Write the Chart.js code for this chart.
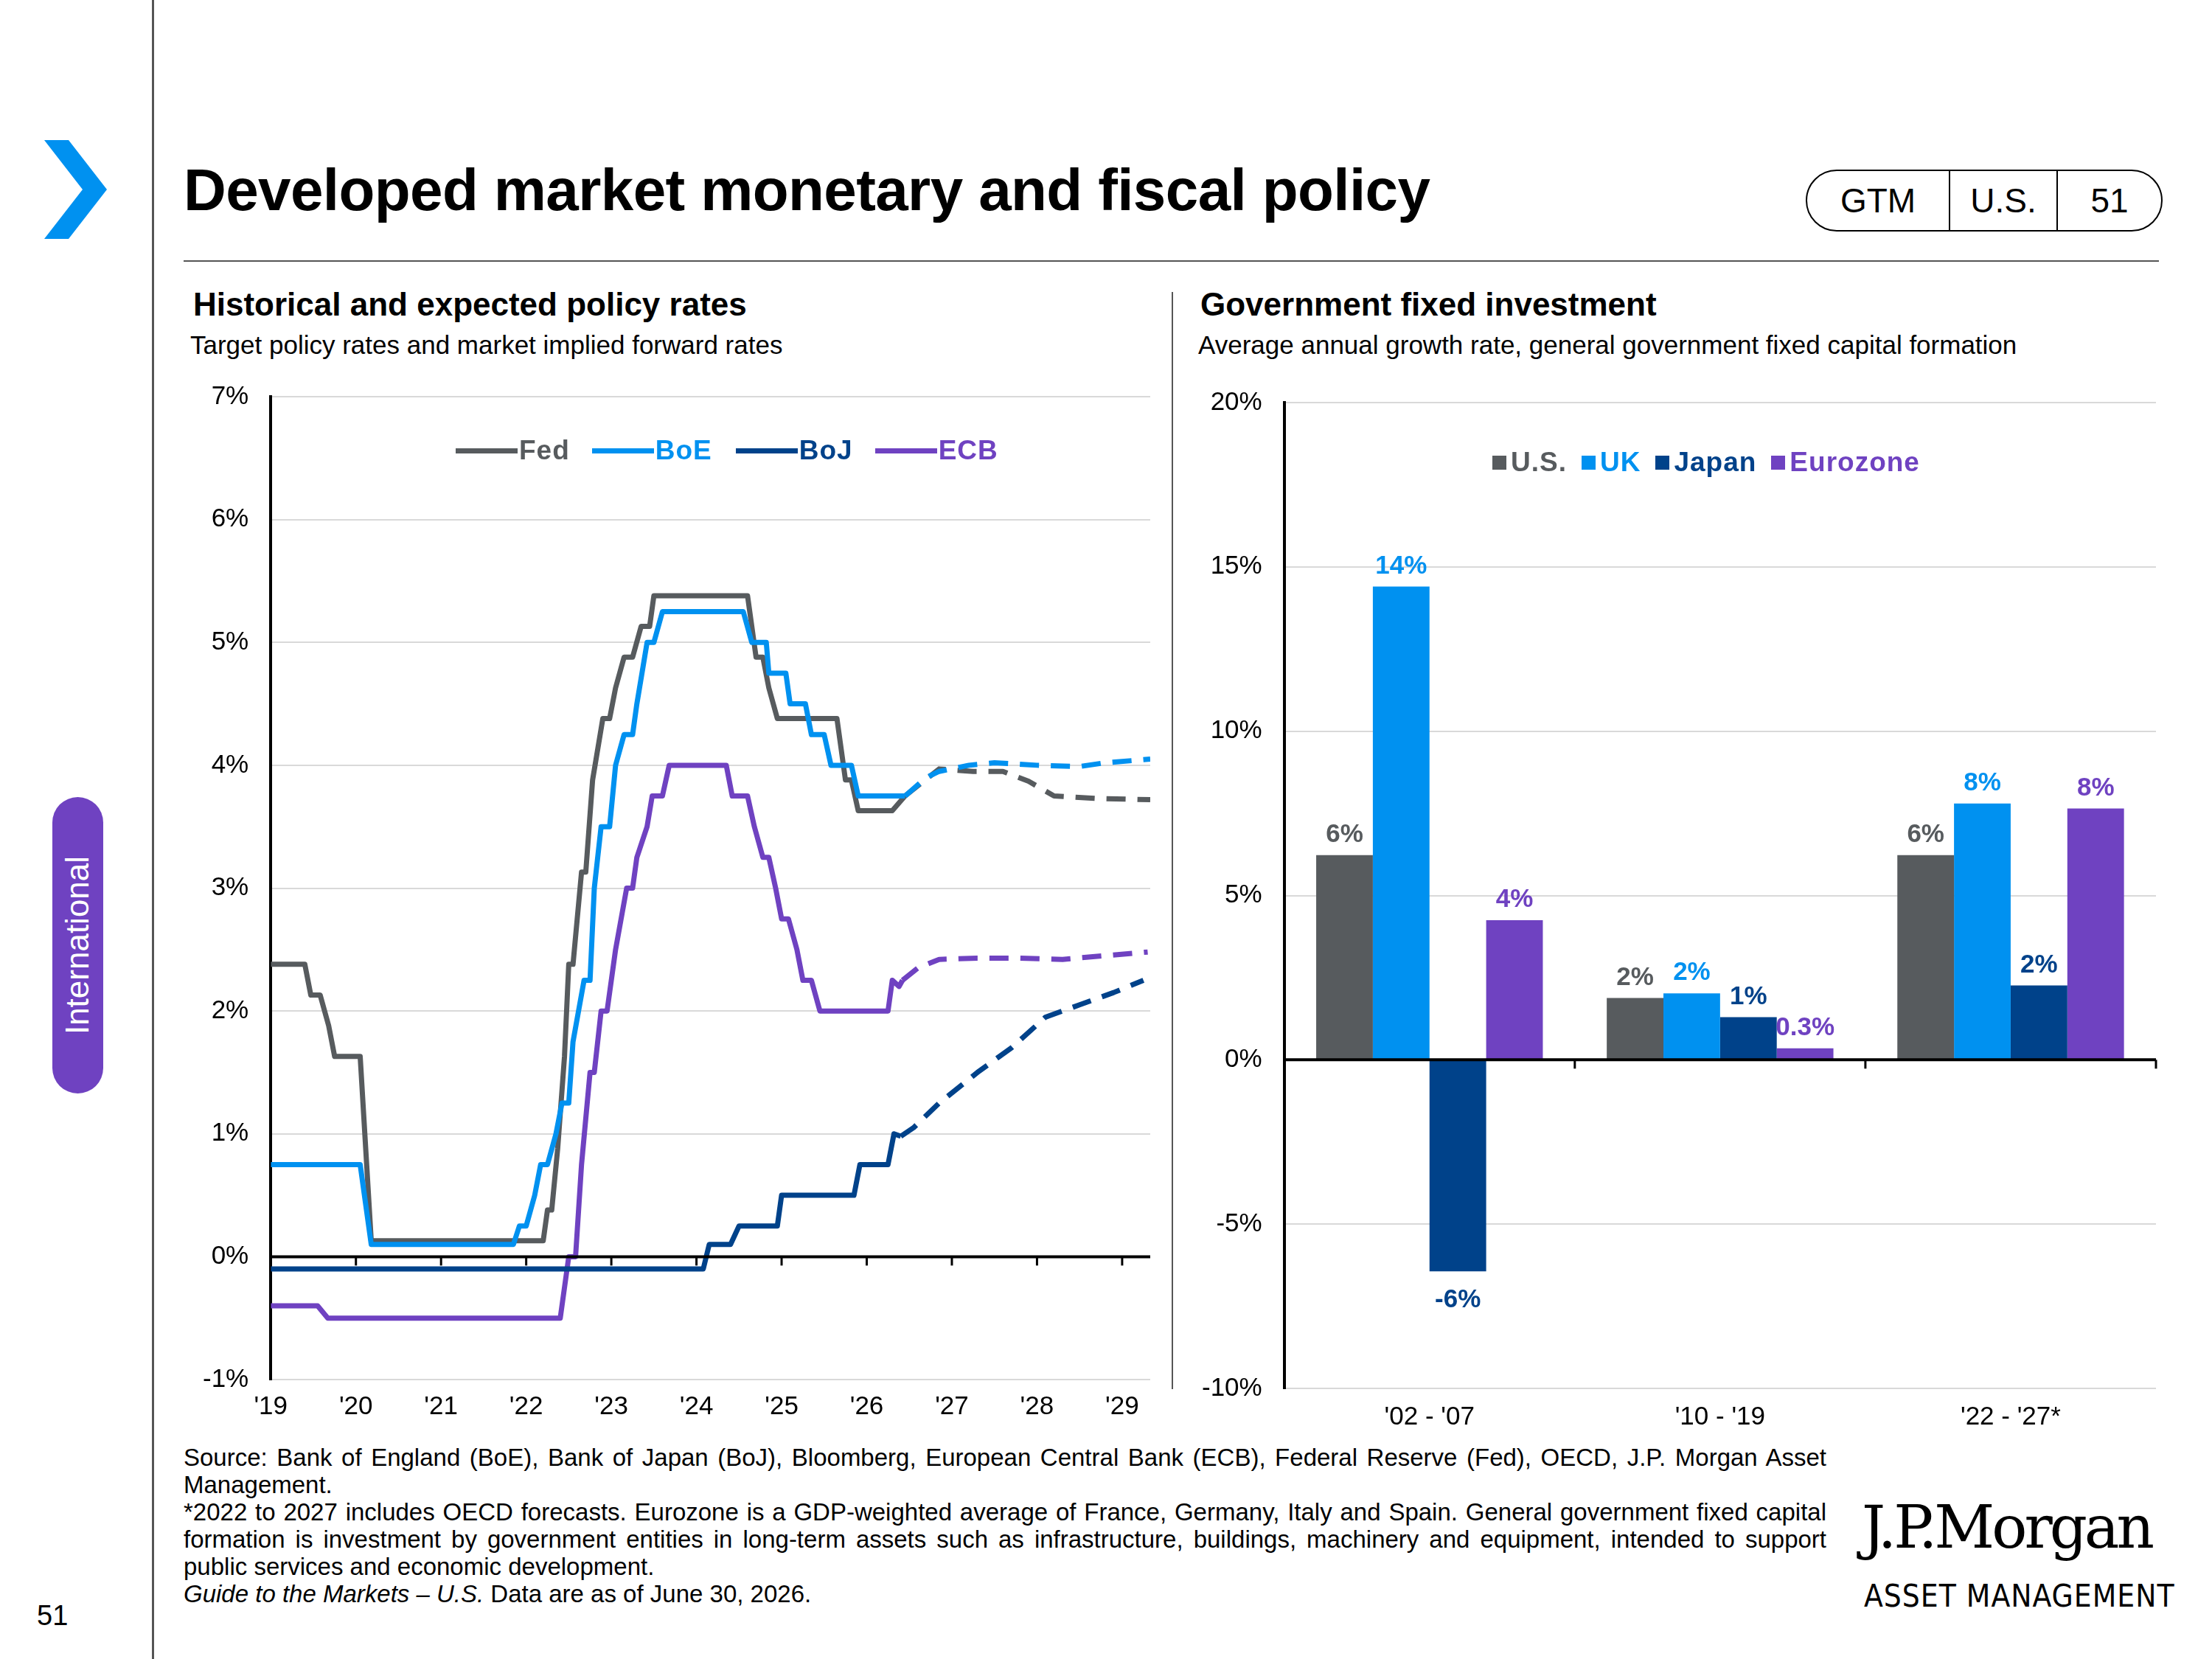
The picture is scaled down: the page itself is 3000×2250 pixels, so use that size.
<!DOCTYPE html>
<html>
<head>
<meta charset="utf-8">
<script src="https://cdn.jsdelivr.net/npm/chart.js@4"></script>
<style>
  body { margin: 0; width: 3000px; height: 2250px; background: #fff; font-family: "Liberation Sans", Arial, sans-serif; position: relative; overflow: hidden; }
  .abs { position: absolute; }
  #title { left: 249px; top: 212px; font-size: 80px; font-weight: bold; color: #000; letter-spacing: -0.6px; }
  .h2 { font-size: 44px; font-weight: bold; color: #000; }
  .h3 { font-size: 35px; color: #000; }
  .foot { left: 249px; top: 1958px; width: 2228px; font-size: 33px; line-height: 37px; color: #000; text-align: justify; }
  .legend { font-size: 37px; font-weight: bold; display: flex; align-items: center; letter-spacing: 1px; }
  .legend span { display: inline-flex; align-items: center; }
  .ln { display: inline-block; width: 84px; height: 7px; margin-right: 2px; }
  .sq { display: inline-block; width: 19px; height: 19px; margin-right: 6px; }
</style>
</head>
<body>
<div class="abs" style="left:206px;top:0;width:3px;height:2250px;background:#555"></div>
<svg class="abs" style="left:55px;top:190px" width="95" height="135"><polygon points="5,0 38,0 90,67 38,134 5,134 57,67" fill="#0091f0"/></svg>
<div class="abs" style="left:71px;top:1081px;width:69px;height:402px;border-radius:35px;background:#6f42c1"></div>
<div class="abs" style="left:105px;top:1282px;transform:translate(-50%,-50%) rotate(-90deg);color:#fff;font-size:44px;white-space:nowrap">International</div>
<div class="abs" style="left:50px;top:2170px;font-size:38px">51</div>
<div id="title" class="abs">Developed market monetary and fiscal policy</div>
<div class="abs" style="left:2449px;top:230px;width:480px;height:80px;border:2px solid #000;border-radius:42px;display:flex;font-size:46px;align-items:center">
  <div style="width:192px;text-align:center;border-right:2px solid #000;line-height:80px">GTM</div>
  <div style="width:144px;text-align:center;border-right:2px solid #000;line-height:80px">U.S.</div>
  <div style="flex:1;text-align:center;line-height:80px">51</div>
</div>
<div class="abs" style="left:249px;top:353px;width:2679px;height:2px;background:#555"></div>
<div class="abs" style="left:1589px;top:396px;width:2px;height:1488px;background:#555"></div>

<div class="abs h2" style="left:262px;top:388px">Historical and expected policy rates</div>
<div class="abs h3" style="left:258px;top:448px">Target policy rates and market implied forward rates</div>
<div class="abs h2" style="left:1628px;top:388px">Government fixed investment</div>
<div class="abs h3" style="left:1625px;top:448px">Average annual growth rate, general government fixed capital formation</div>

<div class="abs" style="left:245px;top:487px;width:1335px;height:1450px"><canvas id="rates"></canvas></div>
<div class="abs" style="left:1600px;top:495px;width:1334px;height:1458px"><canvas id="gfi"></canvas></div>

<div class="abs legend" style="left:618px;top:590px">
  <span style="color:#575b5e;margin-right:30px"><i class="ln" style="background:#575b5e"></i>Fed</span>
  <span style="color:#0091f0;margin-right:32px"><i class="ln" style="background:#0091f0"></i>BoE</span>
  <span style="color:#00428a;margin-right:30px"><i class="ln" style="background:#00428a"></i>BoJ</span>
  <span style="color:#6f42c1"><i class="ln" style="background:#6f42c1"></i>ECB</span>
</div>
<div class="abs legend" style="left:2024px;top:606px">
  <span style="color:#575b5e;margin-right:20px"><i class="sq" style="background:#575b5e"></i>U.S.</span>
  <span style="color:#0091f0;margin-right:20px"><i class="sq" style="background:#0091f0"></i>UK</span>
  <span style="color:#00428a;margin-right:20px"><i class="sq" style="background:#00428a"></i>Japan</span>
  <span style="color:#6f42c1"><i class="sq" style="background:#6f42c1"></i>Eurozone</span>
</div>

<div class="abs foot">Source: Bank of England (BoE), Bank of Japan (BoJ), Bloomberg, European Central Bank (ECB), Federal Reserve (Fed), OECD, J.P. Morgan Asset Management.<br>*2022 to 2027 includes OECD forecasts. Eurozone is a GDP-weighted average of France, Germany, Italy and Spain. General government fixed capital formation is investment by government entities in long-term assets such as infrastructure, buildings, machinery and equipment, intended to support public services and economic development.<br><i>Guide to the Markets – U.S.</i> Data are as of June 30, 2026.</div>
<div class="abs" style="left:2525px;top:2025px;font-family:'DejaVu Serif',serif;font-size:80px;letter-spacing:-4px">J.P.Morgan</div>
<div class="abs" style="left:2528px;top:2140px;font-size:42px;letter-spacing:1px;font-family:'DejaVu Sans Condensed','DejaVu Sans',sans-serif">ASSET MANAGEMENT</div>

<script>
// ---- policy rates (x = year, y = %) ----
const fedX = [2019, 2019.4, 2019.47, 2019.58, 2019.68, 2019.75, 2020.05, 2020.18, 2022.2, 2022.25, 2022.3, 2022.37, 2022.45, 2022.5, 2022.55, 2022.65, 2022.7, 2022.78, 2022.9, 2022.98, 2023.05, 2023.15, 2023.25, 2023.35, 2023.45, 2023.5, 2024.6, 2024.7, 2024.78, 2024.85, 2024.95, 2025.65, 2025.75, 2025.82, 2025.9, 2026.3, 2026.45];
const fedY = [2.38, 2.38, 2.13, 2.13, 1.88, 1.63, 1.63, 0.13, 0.13, 0.38, 0.38, 0.88, 1.63, 2.38, 2.38, 3.13, 3.13, 3.88, 4.38, 4.38, 4.63, 4.88, 4.88, 5.13, 5.13, 5.38, 5.38, 4.88, 4.88, 4.63, 4.38, 4.38, 3.88, 3.88, 3.63, 3.63, 3.75];
const fedFX = [2026.45, 2026.85, 2027.25, 2027.6, 2027.9, 2028.2, 2028.7, 2029.33];
const fedFY = [3.75, 3.97, 3.95, 3.95, 3.87, 3.75, 3.73, 3.72];

const boeX = [2019, 2020.05, 2020.18, 2021.85, 2021.92, 2022.0, 2022.1, 2022.17, 2022.25, 2022.35, 2022.42, 2022.5, 2022.55, 2022.68, 2022.75, 2022.8, 2022.88, 2022.98, 2023.05, 2023.15, 2023.25, 2023.3, 2023.42, 2023.5, 2023.6, 2024.55, 2024.65, 2024.82, 2024.85, 2025.05, 2025.1, 2025.28, 2025.35, 2025.5, 2025.58, 2025.82, 2025.9, 2026.45];
const boeY = [0.75, 0.75, 0.1, 0.1, 0.25, 0.25, 0.5, 0.75, 0.75, 1.0, 1.25, 1.25, 1.75, 2.25, 2.25, 3.0, 3.5, 3.5, 4.0, 4.25, 4.25, 4.5, 5.0, 5.0, 5.25, 5.25, 5.0, 5.0, 4.75, 4.75, 4.5, 4.5, 4.25, 4.25, 4.0, 4.0, 3.75, 3.75];
const boeFX = [2026.45, 2026.7, 2026.85, 2027.2, 2027.5, 2028.0, 2028.5, 2028.8, 2029.33];
const boeFY = [3.75, 3.9, 3.95, 4.0, 4.02, 4.0, 3.99, 4.02, 4.05];

const bojX = [2019, 2024.08, 2024.15, 2024.4, 2024.5, 2024.95, 2025.0, 2025.85, 2025.92, 2026.25, 2026.32, 2026.4];
const bojY = [-0.1, -0.1, 0.1, 0.1, 0.25, 0.25, 0.5, 0.5, 0.75, 0.75, 1.0, 0.98];
const bojFX = [2026.4, 2026.55, 2026.85, 2027.3, 2027.7, 2028.1, 2028.5, 2028.9, 2029.25];
const bojFY = [0.98, 1.05, 1.25, 1.5, 1.7, 1.95, 2.05, 2.15, 2.25];

const ecbX = [2019, 2019.55, 2019.67, 2022.4, 2022.5, 2022.58, 2022.65, 2022.75, 2022.8, 2022.88, 2022.95, 2023.05, 2023.18, 2023.25, 2023.3, 2023.42, 2023.48, 2023.6, 2023.68, 2024.35, 2024.42, 2024.6, 2024.68, 2024.78, 2024.85, 2024.93, 2025.0, 2025.08, 2025.18, 2025.25, 2025.35, 2025.45, 2026.25, 2026.3, 2026.38, 2026.42];
const ecbY = [-0.4, -0.4, -0.5, -0.5, 0.0, 0.0, 0.75, 1.5, 1.5, 2.0, 2.0, 2.5, 3.0, 3.0, 3.25, 3.5, 3.75, 3.75, 4.0, 4.0, 3.75, 3.75, 3.5, 3.25, 3.25, 3.0, 2.75, 2.75, 2.5, 2.25, 2.25, 2.0, 2.0, 2.25, 2.2, 2.25];
const ecbFX = [2026.42, 2026.6, 2026.85, 2027.3, 2027.8, 2028.3, 2028.8, 2029.3];
const ecbFY = [2.25, 2.35, 2.42, 2.43, 2.43, 2.42, 2.45, 2.48];

const rateTicks = [-1, 0, 1, 2, 3, 4, 5, 6, 7];

// ---- government fixed investment ----
const periods = ["'02 - '07", "'10 - '19", "'22 - '27*"];
const usVals = [6.23, 1.88, 6.23];
const ukVals = [14.4, 2.02, 7.8];
const jpVals = [-6.44, 1.3, 2.26];
const ezVals = [4.25, 0.35, 7.65];
const usLabels = ["6%", "2%", "6%"];
const ukLabels = ["14%", "2%", "8%"];
const jpLabels = ["-6%", "1%", "2%"];
const ezLabels = ["4%", "0.3%", "8%"];

const C = { fed: "#575b5e", boe: "#0091f0", boj: "#00428a", ecb: "#6f42c1" };
const FONT = "'Liberation Sans', Arial, sans-serif";
Chart.defaults.font.family = FONT;
Chart.defaults.color = "#000";

const pts = (xs, ys) => xs.map((x, i) => ({ x, y: ys[i] }));
function lineDs(xs, ys, color, dashed) {
  return { data: pts(xs, ys), borderColor: color, borderWidth: 7, pointRadius: 0, tension: 0,
           borderDash: dashed ? [26, 16] : [], borderJoinStyle: "round" };
}

// draws the zero line with tick marks
const zeroAxis = {
  id: "zeroAxis",
  afterDatasetsDraw(chart, args, opts) {
    const { ctx, chartArea, scales } = chart;
    const y0 = scales.y.getPixelForValue(0);
    ctx.save();
    ctx.strokeStyle = "#000";
    ctx.lineWidth = 4;
    ctx.beginPath();
    ctx.moveTo(chartArea.left, y0);
    ctx.lineTo(chartArea.right, y0);
    ctx.stroke();
    ctx.lineWidth = 3;
    (opts.ticks || []).forEach(px => {
      const x = px(scales.x);
      ctx.beginPath();
      ctx.moveTo(x, y0);
      ctx.lineTo(x, y0 + 12);
      ctx.stroke();
    });
    ctx.restore();
  }
};

new Chart(document.getElementById("rates"), {
  type: "line",
  data: {
    datasets: [
      lineDs(bojX, bojY, C.boj), lineDs(bojFX, bojFY, C.boj, true),
      lineDs(ecbX, ecbY, C.ecb), lineDs(ecbFX, ecbFY, C.ecb, true),
      lineDs(boeX, boeY, C.boe), lineDs(boeFX, boeFY, C.boe, true),
      lineDs(fedX, fedY, C.fed), lineDs(fedFX, fedFY, C.fed, true),
    ]
  },
  options: {
    responsive: true, maintainAspectRatio: false, animation: false,
    layout: { padding: { right: 20, bottom: 0, top: 20 } },
    plugins: { legend: { display: false }, tooltip: { enabled: false },
      zeroAxis: { ticks: [2020, 2021, 2022, 2023, 2024, 2025, 2026, 2027, 2028, 2029].map(v => s => s.getPixelForValue(v)) } },
    scales: {
      x: { type: "linear", min: 2019, max: 2029.33,
           afterBuildTicks: a => { a.ticks = [2019, 2020, 2021, 2022, 2023, 2024, 2025, 2026, 2027, 2028, 2029].map(v => ({ value: v })); },
           ticks: { font: { size: 35 }, padding: 8, maxRotation: 0, callback: v => "'" + String(v).slice(2) },
           grid: { display: false }, border: { display: false } },
      y: { min: -1, max: 7,
           afterBuildTicks: a => { a.ticks = rateTicks.map(v => ({ value: v })); },
           ticks: { font: { size: 35 }, padding: 30, callback: v => v + "%" },
           grid: { color: "#d9d9d9", lineWidth: 2, drawTicks: false },
           border: { color: "#000", width: 4 } }
    }
  },
  plugins: [zeroAxis]
});

const barLabelPlugin = {
  id: "barLabels",
  afterDatasetsDraw(chart) {
    const { ctx } = chart;
    ctx.save();
    ctx.font = "bold 35px " + FONT;
    ctx.textAlign = "center";
    chart.data.datasets.forEach((ds, di) => {
      chart.getDatasetMeta(di).data.forEach((bar, i) => {
        const v = ds.data[i];
        ctx.fillStyle = ds.backgroundColor;
        if (v >= 0) { ctx.textBaseline = "bottom"; ctx.fillText(ds.valueLabels[i], bar.x, bar.y - 10); }
        else { ctx.textBaseline = "top"; ctx.fillText(ds.valueLabels[i], bar.x, bar.y + 22); }
      });
    });
    ctx.restore();
  }
};

const barDs = (vals, labels, color) => ({ data: vals, valueLabels: labels, backgroundColor: color,
  categoryPercentage: 0.78, barPercentage: 1.0 });

new Chart(document.getElementById("gfi"), {
  type: "bar",
  data: {
    labels: periods,
    datasets: [
      barDs(usVals, usLabels, C.fed), barDs(ukVals, ukLabels, C.boe),
      barDs(jpVals, jpLabels, C.boj), barDs(ezVals, ezLabels, C.ecb)
    ]
  },
  options: {
    responsive: true, maintainAspectRatio: false, animation: false,
    layout: { padding: { right: 10, top: 14 } },
    plugins: { legend: { display: false }, tooltip: { enabled: false },
      zeroAxis: { ticks: [0.5, 1.5, 2.5].map(v => s => s.getPixelForValue(v)) } },
    scales: {
      x: { ticks: { font: { size: 35 }, padding: 10 }, grid: { display: false }, border: { display: false } },
      y: { min: -10, max: 20,
           ticks: { stepSize: 5, font: { size: 35 }, padding: 30, callback: v => v + "%" },
           grid: { color: "#d9d9d9", lineWidth: 2, drawTicks: false },
           border: { color: "#000", width: 4 } }
    }
  },
  plugins: [barLabelPlugin, zeroAxis]
});
</script>
</body>
</html>
